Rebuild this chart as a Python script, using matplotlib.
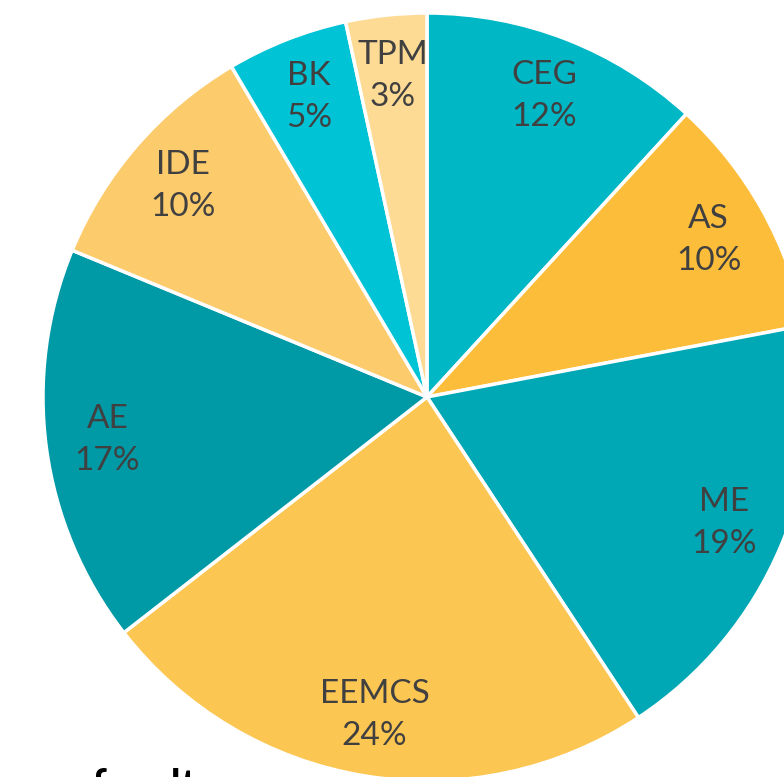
import matplotlib.pyplot as plt

faculties = ["CEG", "AS", "ME", "EEMCS", "AE", "IDE", "BK", "TPM"]
shares = [11.8, 10.2, 18.7, 23.75, 16.75, 10.25, 5.1, 3.4]
colors = ["#00B7C6", "#FCBE3A", "#00A7B5", "#FCC652", "#0099A6",
          "#FCCB6C", "#00C3D5", "#FDDB95"]

W, H = 784, 777
cx, cy, r = 427, 397, 384

plt.rcParams['font.family'] = ['Lato', 'DejaVu Sans']

fig = plt.figure(figsize=(W / 100, H / 100), dpi=100)
ax = fig.add_axes([0, 0, 1, 1])

wedges, texts, autotexts = ax.pie(
    shares, colors=colors, startangle=90, counterclock=False,
    labels=None, autopct="%.0f%%", pctdistance=0.84,
    wedgeprops=dict(edgecolor="white", linewidth=2.5),
)

for w, t, name in zip(wedges, autotexts, faculties):
    t.set_text(name + "\n" + t.get_text())
    t.set_fontsize(24)
    t.set_color("#404040")
    t.set_linespacing(1.5)

ax.set_xlim(-cx / r, (W - cx) / r)
ax.set_ylim(-(H - cy) / r, cy / r)
ax.set_aspect("auto")
ax.axis("off")

fig.text(91 / W, 1 - 768 / H, "faculty", fontsize=30, fontweight="bold",
         color="black", ha="left", va="top")

fig.savefig("out.png", dpi=100)
